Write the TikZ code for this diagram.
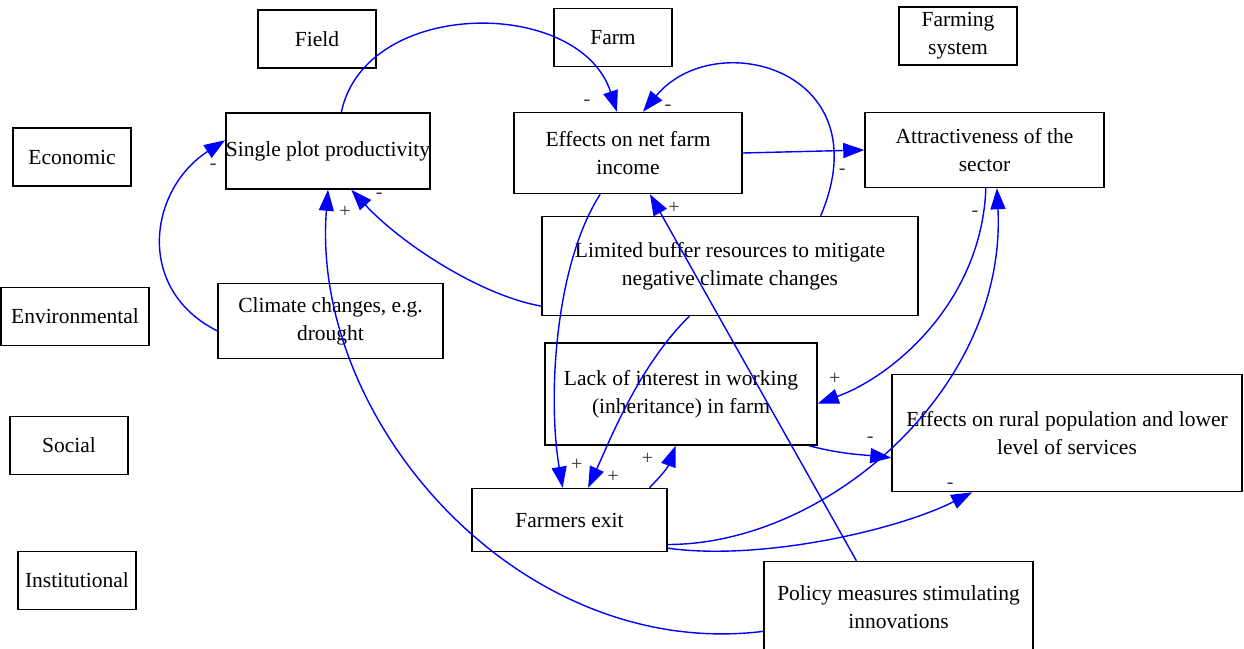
\documentclass[tikz,border=0pt]{standalone}
\usepackage{fontspec}
\setmainfont{Liberation Serif}
\usetikzlibrary{arrows.meta}
\definecolor{linkblue}{RGB}{0,0,255}
\tikzset{
  box/.style={
    draw=black,
    line width=1.5pt,
    rectangle,
    inner sep=0pt,
    align=center,
    font=\fontsize{21.5}{28}\selectfont
  },
  level-box/.style={
    box,
    minimum width=118pt,
    minimum height=58pt
  },
  link/.style={
    draw=linkblue,
    line width=1.4pt,
    -{Triangle[length=21pt,width=15pt]}
  },
  sign/.style={
    text=black!80,
    inner sep=0pt,
    font=\fontsize{20}{20}\selectfont
  }
}

\begin{document}
\begin{tikzpicture}[x=1pt,y=-1pt]
  \useasboundingbox (0,0) rectangle (1244,648);
  \clip (0,0) rectangle (1244,648);

  % --- levels: columns on top, rows on the left ---
  \node[level-box] (field)   at (317,39)   {Field};
  \node[level-box] (farm)    at (613,37.5) {Farm};
  \node[level-box] (farmsys) at (958,36)   {Farming\\system};
  \node[level-box] (econ)    at (72,157)   {Economic};
  \node[level-box, minimum width=148pt] (env) at (75,316.5) {Environmental};
  \node[level-box] (social)  at (69,445.5) {Social};
  \node[level-box] (inst)    at (77,580.5) {Institutional};

  % --- factors ---
  \node[box, minimum width=204pt, minimum height=76pt]  (plot)    at (328,151)    {Single plot productivity};
  \node[box, minimum width=228pt, minimum height=81pt]  (netinc)  at (628,153)    {Effects on net farm\\income};
  \node[box, minimum width=239pt, minimum height=75pt]  (attract) at (984.5,150)  {Attractiveness of the\\sector};
  \node[box, minimum width=376pt, minimum height=99pt]  (buffer)  at (730,266)    {Limited buffer resources to mitigate\\negative climate changes};
  \node[box, minimum width=225pt, minimum height=75pt]  (climate) at (330.5,321)  {Climate changes, e.g.\\drought};
  \node[box, minimum width=272pt, minimum height=102pt] (lack)    at (681,394)    {Lack of interest in working\\(inheritance) in farm};
  \node[box, minimum width=350pt, minimum height=117pt] (rural)   at (1067,433)   {Effects on rural population and lower\\level of services};
  \node[box, minimum width=195pt, minimum height=63pt]  (exit)    at (569.5,520)  {Farmers exit};
  \node[box, minimum width=269pt, minimum height=92pt]  (policy)  at (898.5,607.5) {Policy measures stimulating\\innovations};

  % --- causal links, sign next to the head ---
  \draw[link] (plot.71) .. controls +(24,-115) and +(-37,-115) .. (netinc.105)
    node[sign, xshift=-30pt, yshift=9pt] {-};
  \draw[link] (buffer.29) .. controls +(62,-146) and +(72,-87) .. (netinc.70)
    node[sign, xshift=25pt, yshift=4pt] {-};
  \draw[link] (netinc.east) -- (attract.west)
    node[sign, xshift=-22pt, yshift=-22pt] {-};
  \draw[link] (climate.185) .. controls +(-83,-42) and +(-76,49) .. (plot.174)
    node[sign, xshift=-12pt, yshift=-27pt] {-};
  \draw[link] (buffer.192) .. controls +(-62,-11) and +(49,53) .. (plot.301)
    node[sign, xshift=28pt, yshift=-6pt] {-};
  \draw[link] (policy.190) .. controls +(-244,30) and +(-18,231) .. (plot.south)
    node[sign, xshift=17pt, yshift=-22pt] {+};
  \draw[link] (netinc.236) .. controls +(-46,72) and +(-15,-88) .. (exit.102)
    node[sign, xshift=14pt, yshift=23pt] {+};
  \draw[link] (buffer.231) .. controls +(-50,49) and +(22,-48) .. (exit.60)
    node[sign, xshift=25pt, yshift=11pt] {+};
  \draw[link] (exit.22) .. controls +(12,-12) and +(-8,22) .. (lack.264)
    node[sign, xshift=-28pt, yshift=-13pt] {+};
  \draw[link] (policy.132) -- (netinc.298)
    node[sign, xshift=24pt, yshift=-14pt] {+};
  \draw[link] (attract.272) .. controls +(-4,112) and +(77,-28) .. (lack.356)
    node[sign, xshift=17pt, yshift=25pt] {+};
  \draw[link] (exit.346) .. controls +(160,0) and +(10,200) .. (attract.288)
    node[sign, xshift=-22pt, yshift=-26pt] {-};
  \draw[link] (lack.338) .. controls +(30,8) and +(-30,-3) .. (rural.188)
    node[sign, xshift=-21pt, yshift=18pt] {-};
  \draw[link] (exit.344) .. controls +(93,13) and +(-75,38) .. (rural.212)
    node[sign, xshift=-22pt, yshift=6pt] {-};
\end{tikzpicture}
\end{document}
